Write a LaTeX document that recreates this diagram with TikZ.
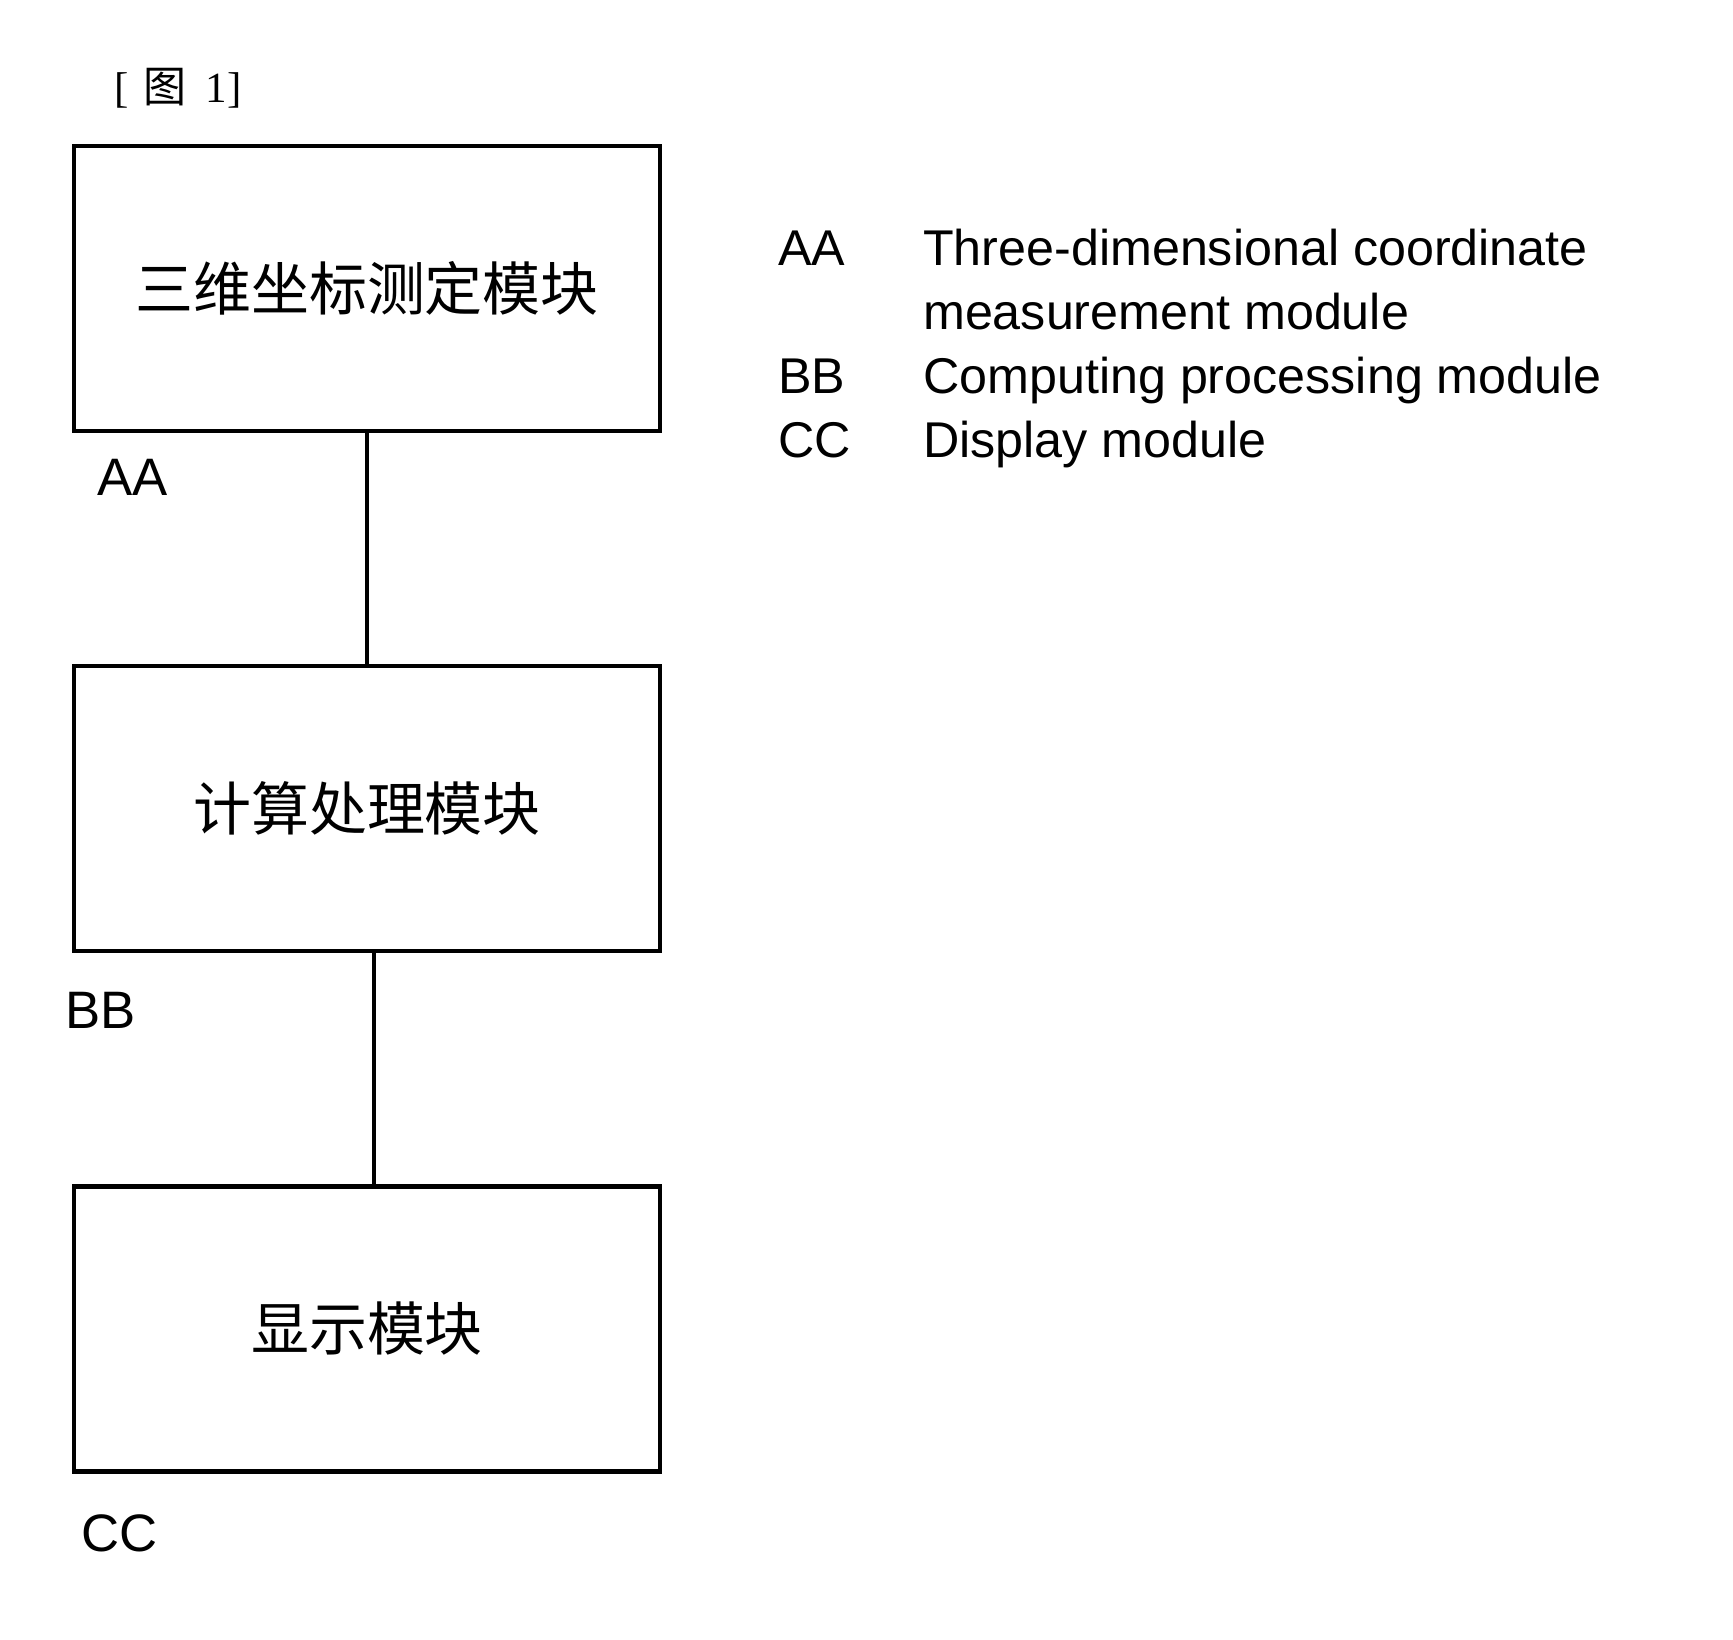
\documentclass[tikz,border=0pt]{standalone}
\usepackage{fontspec}
\setmainfont{Liberation Serif}
\newfontfamily\sansfont{Liberation Sans}
\newfontfamily\cjk{Noto Sans CJK SC}
\usetikzlibrary{positioning}

\begin{document}
\begin{tikzpicture}[
  x=0.02cm,y=-0.02cm,
  line width=0.086cm,
  node distance=4.62cm,
  modbox/.style={draw,minimum width=11.72cm,minimum height=5.7cm,inner sep=0pt,font=\cjk\fontsize{33pt}{33pt}\selectfont},
  tag/.style={anchor=west,inner sep=0pt,font=\sansfont\fontsize{30pt}{30pt}\selectfont},
  key/.style={anchor=base west,inner sep=0pt,font=\sansfont\fontsize{28.6pt}{28.6pt}\selectfont},
  link/.style={line width=0.086cm}
]
\useasboundingbox (0,0) rectangle (1733,1639);
\node[anchor=base west,inner sep=0pt,font=\fontsize{24.5pt}{24.5pt}\selectfont] (fig) at (112,103) {[\hspace{0.35em}{\cjk 图}\hspace{0.45em}1]};
\node[modbox] (meas) at (367,288.5) {三维坐标测定模块};
\node[modbox,below=of meas] (proc) {计算处理模块};
\node[modbox,below=of proc] (disp) {显示模块};
\draw[link] (meas) -- (proc);
\draw[link] ([xshift=0.14cm]proc.south) -- ([xshift=0.14cm]disp.north);
\node[tag] (aa) at (95,477) {AA};
\node[tag] (bb) at (63,1010) {BB};
\node[tag] (cc) at (79,1533) {CC};
% legend
\node[key] (kaa) at (776,265) {AA};
\node[key] (taa) at (921,265) {Three-dimensional coordinate};
\node[key] (taa2) at (921,329) {measurement module};
\node[key] (kbb) at (776,393) {BB};
\node[key] (tbb) at (921,393) {Computing processing module};
\node[key] (kcc) at (776,457) {CC};
\node[key] (tcc) at (921,457) {Display module};
\end{tikzpicture}
\end{document}
